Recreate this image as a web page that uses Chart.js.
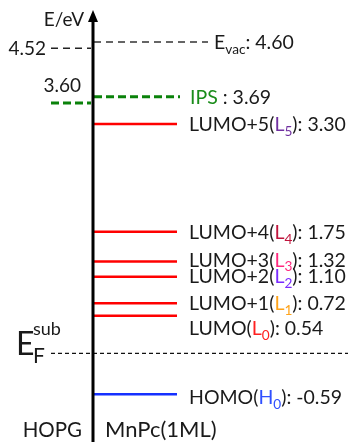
<!DOCTYPE html>
<html>
<head>
<meta charset="utf-8">
<script src="https://cdn.jsdelivr.net/npm/chart.js"></script>
<style>
  html, body { margin: 0; padding: 0; background: #fff; }
  #wrap { width: 348px; height: 442px; }
</style>
</head>
<body>
<div id="wrap"><canvas id="myChart" width="348" height="442"></canvas></div>
<script>
// energy levels of MnPc(1ML) on HOPG (eV, relative to E_F)
const levelNames = ['Evac', 'IPS', 'LUMO+5', 'LUMO+4', 'LUMO+3', 'LUMO+2', 'LUMO+1', 'LUMO', 'HOMO'];
// where each level is drawn (the top of the diagram is not to scale)
const levelEnergies = [4.48, 3.69, 3.30, 1.75, 1.32, 1.10, 0.72, 0.54, -0.59];
const levelValues = ['4.60', '3.69', '3.30', '1.75', '1.32', '1.10', '0.72', '0.54', '-0.59'];
const orbitalTags = ['', '', 'L5', 'L4', 'L3', 'L2', 'L1', 'L0', 'H0'];

// substrate side
const substrateTicks = ['4.52', '3.60'];
const substrateEnergies = [4.39, 3.60];
const fermiEnergy = 0;

const FONT = 'Lato, "Open Sans", sans-serif';
const AXIS_X = 93;

const tagColors = {
    L5: '#7030a0', L4: '#c0143c', L3: '#ff2a7f', L2: '#7a2cff',
    L1: '#ffa31a', L0: '#ff2020', H0: '#3050ff'
};

function seg(x0, x1, y) {
    return [{ x: x0, y: y }, { x: x1, y: y }];
}

const datasets = [];
levelNames.forEach((name, i) => {
    const e = levelEnergies[i];
    let ds = { data: seg(94, 177, e), borderColor: '#ff0000', borderWidth: 2.5 };
    if (name === 'Evac') ds = { data: seg(94, 208, e), borderColor: '#333', borderWidth: 1.5, borderDash: [7, 5] };
    if (name === 'IPS') ds = { data: seg(94, 180, e), borderColor: '#0a820a', borderWidth: 3, borderDash: [8, 4] };
    if (name === 'HOMO') ds.borderColor = '#1530ff';
    datasets.push(ds);
});
substrateEnergies.forEach((e, i) => {
    datasets.push({
        data: seg(51, 91, e),
        borderColor: i === 0 ? '#222' : '#0a820a',
        borderWidth: i === 0 ? 1.5 : 3,
        borderDash: i === 0 ? [7, 5] : [8, 4]
    });
});
datasets.push({ data: seg(51, 348, fermiEnergy), borderColor: '#111', borderWidth: 1.3, borderDash: [4, 3] });

// draws runs of text, some parts as subscript / superscript
function rich(ctx, x, y, parts, size) {
    ctx.textBaseline = 'alphabetic';
    ctx.textAlign = 'left';
    parts.forEach(p => {
        const s = p.sub || p.sup ? size * 0.7 : size;
        const dy = p.sub ? size * 0.25 : (p.sup ? -size * 0.4 : 0);
        ctx.font = s + 'px ' + FONT;
        ctx.fillStyle = p.c || '#1a1a1a';
        ctx.fillText(p.t, x, y + dy);
        x += ctx.measureText(p.t).width;
    });
}

const diagramPlugin = {
    id: 'diagram',
    afterDatasetsDraw(chart) {
        const ctx = chart.ctx;
        const xs = chart.scales.x, ys = chart.scales.y;
        const ax = xs.getPixelForValue(AXIS_X);
        ctx.save();
        // energy axis with arrow
        ctx.strokeStyle = '#000';
        ctx.lineWidth = 3;
        ctx.beginPath();
        ctx.moveTo(ax, 442);
        ctx.lineTo(ax, 18);
        ctx.stroke();
        ctx.fillStyle = '#000';
        ctx.beginPath();
        ctx.moveTo(ax, 10);
        ctx.lineTo(ax - 5, 22);
        ctx.lineTo(ax + 5, 22);
        ctx.closePath();
        ctx.fill();

        const size = 19.5;
        const lx = xs.getPixelForValue(189);
        const offsets = { Evac: 0, IPS: 0, 'LUMO+3': -2, 'LUMO+2': -1, LUMO: 12, HOMO: 3 };
        levelNames.forEach((name, i) => {
            const y = ys.getPixelForValue(levelEnergies[i]) + (offsets[name] || 0) + 7;
            let parts;
            if (name === 'Evac') {
                parts = [{ t: 'E' }, { t: 'vac', sub: true }, { t: ': ' + levelValues[i] }];
                rich(ctx, xs.getPixelForValue(214), y, parts, size);
                return;
            }
            if (name === 'IPS') {
                parts = [{ t: 'IPS', c: '#1a8c1a' }, { t: ' : ' + levelValues[i] }];
                rich(ctx, xs.getPixelForValue(190), y, parts, size);
                return;
            }
            const tag = orbitalTags[i];
            parts = [{ t: name + '(' }, { t: tag[0], c: tagColors[tag] }, { t: tag.slice(1), sub: true, c: tagColors[tag] },
                { t: '): ' + levelValues[i] }];
            rich(ctx, lx, y, parts, size);
        });

        // substrate side text
        ctx.fillStyle = '#1a1a1a';
        ctx.font = '19px ' + FONT;
        ctx.textAlign = 'right';
        ctx.textBaseline = 'middle';
        ctx.fillText('E/eV', 84, 20);
        ctx.fillText(substrateTicks[0], 46, ys.getPixelForValue(substrateEnergies[0]) + 1);
        ctx.fillText(substrateTicks[1], 81, ys.getPixelForValue(substrateEnergies[1]) - 17);

        ctx.textAlign = 'left';
        ctx.textBaseline = 'alphabetic';
        const fy = ys.getPixelForValue(fermiEnergy);
        ctx.font = '32px ' + FONT;
        ctx.fillText('E', 16, fy + 2);
        ctx.font = '18px ' + FONT;
        ctx.fillText('sub', 33, fy - 18);
        ctx.font = '21px ' + FONT;
        ctx.fillText('F', 33, fy + 10);

        ctx.font = '20.5px ' + FONT;
        ctx.textBaseline = 'middle';
        ctx.textAlign = 'right';
        ctx.fillText('HOPG', 82, 430);
        ctx.textAlign = 'left';
        ctx.font = '22px ' + FONT;
        ctx.fillText('MnPc(1ML)', 105, 430);
        ctx.restore();
    }
};

new Chart(document.getElementById('myChart'), {
    type: 'line',
    data: { datasets: datasets.map(d => Object.assign({ pointRadius: 0, fill: false, tension: 0 }, d)) },
    options: {
        responsive: false,
        animation: false,
        devicePixelRatio: 1,
        layout: { padding: 0 },
        plugins: { legend: { display: false }, tooltip: { enabled: false } },
        scales: {
            x: { type: 'linear', min: 0, max: 348, display: false },
            y: { type: 'linear', min: -1.276, max: 5.083, display: false }
        }
    },
    plugins: [diagramPlugin]
});
</script>
</body>
</html>
